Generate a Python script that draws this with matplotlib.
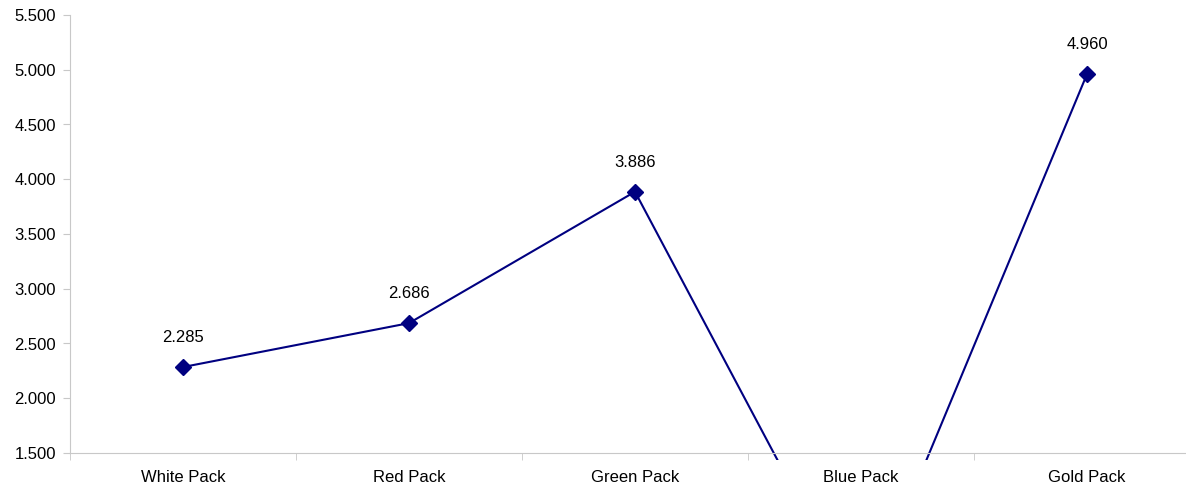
import matplotlib

matplotlib.use("Agg")
import matplotlib.pyplot as plt
import numpy as np
from matplotlib.patches import Rectangle
from matplotlib.ticker import FixedLocator, FuncFormatter

categories = ["White Pack", "Red Pack", "Green Pack", "Blue Pack", "Gold Pack"]
values = [2.285, 2.686, 3.886, 0.0, 4.960]
labels = ["2.285", "2.686", "3.886", "", "4.960"]
yticks = [1.5, 2.0, 2.5, 3.0, 3.5, 4.0, 4.5, 5.0, 5.5]

NAVY = "#000080"
GREY = "#c8c8c8"
FS = 12
plt.rcParams["font.family"] = ["Liberation Sans", "DejaVu Sans"]

fig = plt.figure(figsize=(11.86, 4.9), dpi=100)
ax = fig.add_axes([70 / 1186, 37 / 490, 1130 / 1186, 438 / 490])

x = np.arange(len(categories))
line, = ax.plot(x, values, color=NAVY, linewidth=1.5, marker="D", markersize=8.5,
                markerfacecolor=NAVY, markeredgecolor=NAVY)
# the line runs a few pixels past the axis, as in the source chart
clip = Rectangle((0, -0.016), 1, 1.04, transform=ax.transAxes,
                 facecolor="none", edgecolor="none")
line.set_clip_path(clip)

for xi, v, lab in zip(x, values, labels):
    if lab:
        ax.annotate(lab, (xi, v), xytext=(0, 21), textcoords="offset points",
                    ha="center", va="center", fontsize=FS)

ax.set_xlim(-0.5, len(categories) - 0.5)
ax.set_ylim(1.5, 5.5)
ax.set_yticks(yticks)
ax.yaxis.set_major_formatter(FuncFormatter(lambda v, p: f"{v:.3f}"))
ax.set_xticks(x)
ax.set_xticklabels(categories)
ax.xaxis.set_minor_locator(FixedLocator(np.arange(-0.5, len(categories), 1.0)))
ax.tick_params(axis="x", which="major", length=0, pad=12, labelsize=FS)
ax.tick_params(axis="x", which="minor", length=5, color=GREY)
ax.tick_params(axis="y", length=5, color=GREY, labelsize=FS, pad=5)

for s in ("top", "right"):
    ax.spines[s].set_visible(False)
for s in ("left", "bottom"):
    ax.spines[s].set_color(GREY)

fig.savefig("out.png", dpi=100)
